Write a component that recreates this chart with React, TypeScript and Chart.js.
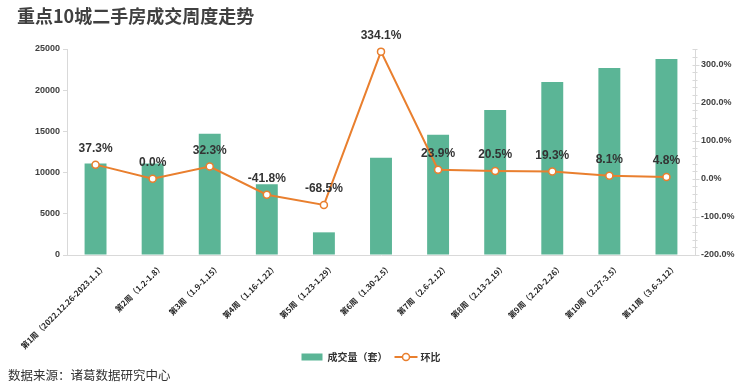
import React, { useEffect, useRef } from 'react';
import { Chart, registerables } from 'chart.js';

Chart.register(...registerables);

const TITLE = '重点10城二手房成交周度走势';
const SOURCE = '数据来源：诸葛数据研究中心';
const BAR_NAME = '成交量（套）';
const LINE_NAME = '环比';

const categories = [
  '第1周（2022.12.26-2023.1.1）',
  '第2周（1.2-1.8）',
  '第3周（1.9-1.15）',
  '第4周（1.16-1.22）',
  '第5周（1.23-1.29）',
  '第6周（1.30-2.5）',
  '第7周（2.6-2.12）',
  '第8周（2.13-2.19）',
  '第9周（2.20-2.26）',
  '第10周（2.27-3.5）',
  '第11周（3.6-3.12）',
];

const volume = [11100, 11100, 14700, 8600, 2750, 11800, 14600, 17600, 21000, 22700, 23800];
const change = [37.3, 0.0, 32.3, -41.8, -68.5, 334.1, 23.9, 20.5, 19.3, 8.1, 4.8];

const leftTicks = [0, 5000, 10000, 15000, 20000, 25000];
const rightTicks = [-200, -100, 0, 100, 200, 300];

const BAR_COLOR = '#5bb596';
const LINE_COLOR = '#e97f2e';
const AXIS_COLOR = '#d9d9d9';
const FONT = '"Liberation Sans", "Noto Sans CJK SC", sans-serif';
const CJK = '"Noto Sans CJK SC", sans-serif';

const decorPlugin = {
  id: 'decor',
  afterDatasetsDraw(chart: any) {
    const ctx = chart.ctx;
    const meta = chart.getDatasetMeta(1);
    ctx.save();
    ctx.font = 'bold 12px ' + FONT;
    ctx.fillStyle = '#333333';
    ctx.textAlign = 'center';
    ctx.textBaseline = 'middle';
    meta.data.forEach((el: any, i: number) => {
      ctx.fillText(change[i].toFixed(1) + '%', el.x, el.y - 16);
    });
    ctx.restore();
  },
  afterDraw(chart: any) {
    const ctx = chart.ctx;
    ctx.save();
    // title
    ctx.fillStyle = '#404040';
    ctx.font = 'bold 18px ' + CJK;
    ctx.textAlign = 'left';
    ctx.textBaseline = 'middle';
    ctx.fillText(TITLE, 17, 16);
    // source
    ctx.font = '12.5px ' + CJK;
    ctx.fillStyle = '#333333';
    ctx.fillText(SOURCE, 8, 375);
    // legend
    ctx.font = 'bold 10px ' + CJK;
    const w1 = ctx.measureText(BAR_NAME).width;
    const w2 = ctx.measureText(LINE_NAME).width;
    const total = 21 + 5 + w1 + 7 + 23 + 3 + w2;
    let x = 371 - total / 2;
    const ly = 357;
    ctx.fillStyle = BAR_COLOR;
    ctx.fillRect(x, ly - 3.5, 21, 7);
    x += 26;
    ctx.fillStyle = '#333333';
    ctx.fillText(BAR_NAME, x, ly);
    x += w1 + 7;
    ctx.strokeStyle = LINE_COLOR;
    ctx.lineWidth = 2;
    ctx.beginPath();
    ctx.moveTo(x, ly);
    ctx.lineTo(x + 23, ly);
    ctx.stroke();
    ctx.beginPath();
    ctx.arc(x + 11.5, ly, 3.5, 0, Math.PI * 2);
    ctx.fillStyle = '#ffffff';
    ctx.fill();
    ctx.lineWidth = 1.5;
    ctx.stroke();
    x += 26;
    ctx.fillStyle = '#333333';
    ctx.fillText(LINE_NAME, x, ly);
    // right axis major/minor ticks
    const y1 = chart.scales.y1;
    const ax = Math.round(y1.left) + 0.5;
    ctx.strokeStyle = AXIS_COLOR;
    ctx.lineWidth = 1;
    for (let v = -200; v <= y1.max + 0.001; v += 20) {
      const py = Math.round(y1.getPixelForValue(v)) + 0.5;
      const major = v % 100 === 0;
      ctx.beginPath();
      ctx.moveTo(ax - 3, py);
      ctx.lineTo(ax + (major ? 4 : 2), py);
      ctx.stroke();
    }
    ctx.restore();
  },
};

export default function App() {
  const ref = useRef<HTMLCanvasElement>(null);

  useEffect(() => {
    if (!ref.current) return;
    const chart = new Chart(ref.current, {
      type: 'bar',
      data: {
        labels: categories,
        datasets: [
          {
            type: 'bar',
            label: BAR_NAME,
            data: volume,
            backgroundColor: BAR_COLOR,
            yAxisID: 'y',
            order: 1,
            categoryPercentage: 0.8,
            barPercentage: 0.48,
          },
          {
            type: 'line',
            label: LINE_NAME,
            data: change,
            yAxisID: 'y1',
            order: 0,
            borderColor: LINE_COLOR,
            borderWidth: 2,
            pointRadius: 3.5,
            pointBackgroundColor: '#ffffff',
            pointBorderColor: LINE_COLOR,
            pointBorderWidth: 1.5,
            tension: 0,
            clip: false,
          },
        ],
      } as any,
      options: {
        responsive: false,
        animation: false,
        layout: { padding: { top: 49, left: 0, right: 0, bottom: 0 } },
        plugins: {
          legend: { display: false },
          title: { display: false },
          tooltip: { enabled: false },
        },
        scales: {
          x: {
            offset: true,
            grid: { display: false, drawTicks: false },
            border: { display: true, color: AXIS_COLOR },
            ticks: {
              maxRotation: 45,
              minRotation: 45,
              autoSkip: false,
              padding: 7,
              labelOffset: 9,
              color: '#262626',
              font: { family: CJK, size: 8, weight: 'bold' },
            },
            afterFit(scale: any) {
              scale.height = 133;
            },
          },
          y: {
            position: 'left',
            min: 0,
            max: 25000,
            afterBuildTicks(scale: any) {
              scale.ticks = leftTicks.map((v) => ({ value: v }));
            },
            grid: { drawOnChartArea: false, drawTicks: true, tickLength: 4, color: AXIS_COLOR },
            border: { display: true, color: AXIS_COLOR },
            ticks: {
              padding: 3,
              color: '#404040',
              font: { family: FONT, size: 9, weight: 'bold' },
              callback: (v: any) => String(v),
            },
            afterFit(scale: any) {
              scale.width = 67;
            },
          },
          y1: {
            position: 'right',
            min: -200,
            max: 341,
            afterBuildTicks(scale: any) {
              scale.ticks = rightTicks.map((v) => ({ value: v }));
            },
            grid: { drawOnChartArea: false, drawTicks: false },
            border: { display: true, color: AXIS_COLOR },
            ticks: {
              padding: 6,
              color: '#404040',
              font: { family: FONT, size: 9, weight: 'bold' },
              callback: (v: any) => Number(v).toFixed(1) + '%',
            },
            afterFit(scale: any) {
              scale.width = 45;
            },
          },
        },
      } as any,
      plugins: [decorPlugin],
    });
    return () => chart.destroy();
  }, []);

  return (
    <div style={{ position: 'absolute', left: 0, top: 0, width: 740, height: 388, background: '#ffffff' }}>
      <canvas ref={ref} width={740} height={388} />
    </div>
  );
}
